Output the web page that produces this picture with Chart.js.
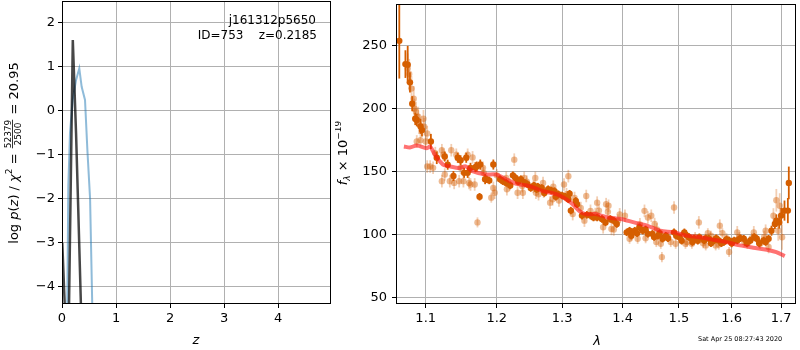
<!DOCTYPE html>
<html>
<head>
<meta charset="utf-8">
<script src="https://cdn.jsdelivr.net/npm/chart.js@4.4.1/dist/chart.umd.min.js"></script>
<style>
  body { margin: 0; background: #fff; }
  #wrap { position: relative; width: 800px; height: 350px; }
  canvas { position: absolute; top: 0; }
  #pz { left: 0; }
  #spec { left: 335px; }
  #stamp { position: absolute; left: 698px; top: 335px; font: 6.5px "DejaVu Sans"; white-space: nowrap; }
</style>
</head>
<body>
<div id="wrap">
  <canvas id="pz" width="335" height="350"></canvas>
  <canvas id="spec" width="465" height="350"></canvas>
  <div id="stamp">Sat Apr 25 08:27:43 2020</div>
</div>
<script>
// p(z) panel
const zTicks = [0, 1, 2, 3, 4];
const pzTicks = [-4, -3, -2, -1, 0, 1, 2];
const zBlack = [0.005, 0.06, 0.10, 0.20, 0.26, 0.30, 0.35, 0.40];
const pzBlack = [-3.0, -4.7, -7.0, 1.61, -0.5, -2.2, -4.4, -7.0];
const zBlue = [0.09, 0.117, 0.148, 0.198, 0.26, 0.32, 0.364, 0.426, 0.47, 0.52, 0.56, 0.59];
const pzBlue = [-5.5, -1.72, -0.5, 0.25, 0.7, 0.97, 0.55, 0.25, -0.89, -2.0, -4.4, -6.5];

// spectrum panel
const lamTicks = [1.1, 1.2, 1.3, 1.4, 1.5, 1.6, 1.7];
const fluxTicks = [50, 100, 150, 200, 250];

const lamDark = [1.065,1.073,1.076,1.079,1.082,1.086,1.088,1.093,1.095,1.107,
  1.115,1.126,1.130,1.138,1.144,1.148,1.153,1.156,1.158,1.162,
  1.169,1.171,1.175,1.176,1.183,1.185,1.189,1.195,1.205,1.209,
  1.214,1.224,1.228,1.236,1.242,1.246,1.251,1.256,1.262,1.268,
  1.278,1.283,1.288,1.294,1.300,1.305,1.312,1.314,1.322,1.324,
  1.332,1.340,1.346,1.351,1.357,1.365,1.371,1.379,1.385,1.390,
  1.407,1.412,1.421,1.429,1.435,1.444,1.452,1.462,1.470,1.476,
  1.491,1.501,1.510,1.519,1.528,1.538,1.547,1.556,1.566,1.575,
  1.585,1.595,1.605,1.611,1.624,1.637,1.650,1.664,1.674,1.680,
  1.687,1.690,1.696,1.700,1.707,1.714,1.716,
  1.220,1.232,1.260,1.272,1.290,1.310,
  1.415,1.425,1.440,1.455,1.465,1.480,1.495,1.505,1.515,1.525,
  1.535,1.550,1.560,1.570,1.580,1.590,1.600,1.617,1.630,1.645,
  1.655,1.668];
const fluxDark = [254,235.5,235,221,204,192,191,186,183,174,
  161,162,155.5,146.5,161,159,149,161,149,153,
  153.5,154,130,155.6,144,144,143,155.6,144,142.4,
  141,147,145,144,141,140,137,139,138,137,
  136,135,134.5,132,131,130,132.4,119,126.7,124,
  115,115.6,115,113.5,113.5,112.3,109.6,112.3,111,108.3,
  101.7,103,103,105.7,103,100.5,100.5,99,96.6,99,
  101.7,97.8,101.7,97.8,96.6,97.8,95.2,96.6,95.2,95.2,
  94,95.2,95.2,95.2,96.6,95.2,96.6,95.2,96.6,103,
  108.3,111,109.6,115,119,119,141,
  139,142,136,133,130,128,
  99,101,104,98,101,97,99,95,99,94,
  95,97,93,97,93,96,93,97,93,98,
  93,94];
const errDark = [30,11,15,8,6,5,5,6,5,6,
  5,4,4,4,4,4,4,4,4,4,
  4,4,3,4,4,3,3,4,3,3,
  3,3,3,3,3,3,3,3,3,3,
  3,3,3,3,3,3,3,3,3,3,
  3,3,3,3,3,3,3,3,3,3,
  3,3,3,3,3,3,3,3,3,3,
  3,3,3,3,3,3,3,3,3,3,
  3,3,3,3,3,3,3,3,3,4,
  4,5,5,6,8,10,13,
  3,3,3,3,3,3,
  3,3,3,3,3,3,3,3,3,3,
  3,3,3,3,3,3,3,3,3,3,
  3,3];

const lamLight = [1.076,1.078,1.081,1.084,1.085,1.087,1.090,1.091,1.097,1.098,
  1.102,1.088,1.093,1.100,1.102,1.106,1.110,1.122,1.126,1.133,
  1.139,1.146,1.148,1.122,1.124,1.113,1.142,1.135,1.152,1.158,
  1.160,1.165,1.162,1.168,1.172,1.180,1.181,1.192,1.195,1.197,
  1.200,1.214,1.215,1.219,1.226,1.231,1.238,1.239,1.241,1.245,
  1.255,1.258,1.259,1.263,1.270,1.271,1.281,1.285,1.286,1.295,
  1.303,1.307,1.310,1.317,1.320,1.330,1.336,1.339,1.346,1.354,
  1.357,1.360,1.367,1.372,1.375,1.376,1.381,1.385,1.392,1.395,
  1.404,1.412,1.415,1.426,1.430,1.438,1.440,1.444,1.450,1.456,
  1.459,1.460,1.467,1.469,1.480,1.485,1.491,1.494,1.505,1.512,
  1.515,1.524,1.530,1.537,1.545,1.550,1.554,1.560,1.569,1.575,
  1.577,1.582,1.590,1.595,1.600,1.611,1.615,1.625,1.631,1.640,
  1.644,1.655,1.657,1.665,1.668,1.674,1.684,1.690,1.694,1.697,
  1.702];
const fluxLight = [232,227.6,216,208,200,197.5,193.6,188,192,185.7,
  180.4,174,175,174,154,154,153,142.4,147.7,142.4,
  141,142.4,153,167,163.4,164.7,163.4,167,142.4,163.4,
  141,161.3,139.8,139.8,109.6,153,149,129.3,137,133.2,
  147,145,136,139.8,159.5,133.2,138.5,133.2,145,142,
  138,145,133.2,132,141,134,125.3,128,138,127,
  139.8,132,146.4,116.2,129,121,111,130.6,118.8,116.2,
  125.3,119,105.7,124.1,118,122.8,104.4,104,111,116,
  114.9,96.6,100,96.6,108,118.8,97,113.5,114.9,108.3,
  94,104,92.6,82,98,94,121.4,92.6,99,92.6,
  94,92.6,98,109.6,93,91.3,101,99,91.3,92,
  107,101,97,86,93,101.7,98,94,92.6,97,
  101.7,93,92.6,98,103,90,114.9,127.2,103,122.8,
  97.8];
const errLight = [12,12,10,10,8,8,8,8,7,7,
  6,5,5,5,5,5,5,5,5,5,
  5,5,5,5,5,5,5,5,5,5,
  5,5,5,5,4,5,5,4,5,5,
  5,5,5,5,5,5,5,5,5,5,
  5,5,5,5,5,5,5,5,5,5,
  5,5,5,5,5,5,5,5,5,5,
  5,5,5,5,5,5,5,5,5,5,
  5,4,5,4,5,5,4,5,5,5,
  4,5,4,4,4,4,5,4,4,4,
  4,4,4,5,4,4,4,4,4,4,
  5,4,4,4,4,5,4,4,4,4,
  5,4,4,5,5,5,6,9,8,10,
  10];

const lamModel = [1.071,1.079,1.088,1.1015,1.106,1.1125,1.1236,1.1327,1.146,1.1553,
  1.1647,1.184,1.1988,1.214,1.229,1.2495,1.270,1.291,1.3065,1.317,
  1.3275,1.338,1.354,1.3755,1.397,1.4195,1.4425,1.466,1.490,1.514,
  1.539,1.5645,1.590,1.616,1.643,1.6705,1.690,1.7075];
const fluxModel = [170,169.2,170.8,168.6,170,163.4,155.6,154.2,152.9,154.2,
  150.3,147.7,147.7,143.8,140.3,138.5,134.5,132,128,124.1,
  118.8,116.2,116.2,113.5,112.3,109.6,107,103,101.7,99.1,
  97.8,95.8,93.9,91.3,89.5,87.9,86,82.8];

const ORANGE = "rgb(213,94,0)";
const GRID = "#b0b0b0";
Chart.defaults.font.family = "'DejaVu Sans'";
Chart.defaults.font.size = 13;
Chart.defaults.color = "#000";

function pts(xs, ys){
    return xs.map((x, i) => ({x: x, y: ys[i]}));
}

function minus(v){
    return v < 0 ? "\u2212" + Math.abs(v) : String(v);
}

function fixTicks(list){
    return function(scale){
        scale.ticks = list.map(v => ({value: v}));
    };
}

// fixed axis size, and no extra room for the end labels
function fixSize(w, h){
    return function(s){
        if(w) s.width = w;
        if(h) s.height = h;
        s.paddingTop = 0; s.paddingBottom = 0;
        s.paddingLeft = 0; s.paddingRight = 0;
    };
}

// black frame round the plot area
const frame = {
    id: "frame",
    afterDatasetsDraw(chart){
        const a = chart.chartArea, ctx = chart.ctx;
        ctx.save();
        ctx.strokeStyle = "#000";
        ctx.lineWidth = 1;
        ctx.strokeRect(Math.round(a.left) + 0.5, Math.round(a.top) + 0.5,
            Math.round(a.right - a.left) - 1, Math.round(a.bottom - a.top) - 1);
        ctx.restore();
    }
};

// vertical error bars, drawn before each dataset's points
const errorBars = {
    id: "errorBars",
    beforeDatasetDraw(chart, args){
        const ds = chart.data.datasets[args.index];
        if(!ds.err) return;
        const xs = chart.scales.x, ys = chart.scales.y, ctx = chart.ctx, a = chart.chartArea;
        ctx.save();
        ctx.beginPath();
        ctx.rect(a.left, a.top, a.right - a.left, a.bottom - a.top);
        ctx.clip();
        ctx.strokeStyle = ds.errColor;
        ctx.lineWidth = 1.8;
        for(let i = 0; i < ds.data.length; i++){
            const p = ds.data[i];
            const x = xs.getPixelForValue(p.x);
            ctx.beginPath();
            ctx.moveTo(x, ys.getPixelForValue(p.y - ds.err[i]));
            ctx.lineTo(x, ys.getPixelForValue(p.y + ds.err[i]));
            ctx.stroke();
        }
        ctx.restore();
    }
};

// draws a run of text pieces along the rotated axis
function drawPieces(ctx, pieces, cx, cy){
    let total = 0;
    for(const p of pieces){
        ctx.font = p.font;
        p.w = p.frac ? Math.max(ctx.measureText(p.frac[0]).width, ctx.measureText(p.frac[1]).width) + 2 : ctx.measureText(p.t).width;
        total += p.w;
    }
    ctx.save();
    ctx.translate(cx, cy);
    ctx.rotate(-Math.PI / 2);
    ctx.fillStyle = "#000";
    ctx.textBaseline = "alphabetic";
    let u = -total / 2;
    for(const p of pieces){
        ctx.font = p.font;
        if(p.frac){
            ctx.textAlign = "center";
            ctx.fillText(p.frac[0], u + p.w / 2, -7);
            ctx.fillText(p.frac[1], u + p.w / 2, 3);
            ctx.fillRect(u + 1, -5.8, p.w - 2, 0.8);
        } else {
            ctx.textAlign = "left";
            ctx.fillText(p.t, u, p.dy || 0);
        }
        u += p.w;
    }
    ctx.restore();
}

const REG = "13px 'DejaVu Sans'", IT = "italic 13px 'DejaVu Sans'", SM = "9px 'DejaVu Sans'";

const pzText = {
    id: "pzText",
    afterDraw(chart){
        const ctx = chart.ctx;
        drawPieces(ctx, [
            {t: "log ", font: REG}, {t: "p", font: IT}, {t: "(", font: REG}, {t: "z", font: IT},
            {t: ") / ", font: REG}, {t: "\u03c7", font: IT}, {t: "2", font: SM, dy: -6},
            {t: " = ", font: REG}, {frac: ["52379", "2500"], font: SM}, {t: " = 20.95", font: REG}
        ], 18, 153);
        ctx.save();
        ctx.font = "12px 'DejaVu Sans'";
        ctx.textAlign = "right";
        ctx.fillStyle = "#000";
        ctx.fillText("j161312p5650", 316, 24);
        ctx.fillText("ID=753    z=0.2185", 317, 39);
        ctx.font = IT;
        ctx.textAlign = "center";
        ctx.fillText("z", 196, 344);
        ctx.restore();
    }
};

const specText = {
    id: "specText",
    afterDraw(chart){
        const ctx = chart.ctx;
        drawPieces(ctx, [
            {t: "f", font: IT}, {t: "\u03bb", font: "italic 9px 'DejaVu Sans'", dy: 3},
            {t: " \u00d7 10", font: REG}, {t: "\u221219", font: SM, dy: -6}
        ], 12, 153);
        ctx.save();
        ctx.font = IT;
        ctx.textAlign = "center";
        ctx.fillStyle = "#000";
        ctx.fillText("\u03bb", 597 - 335, 345);
        ctx.restore();
    }
};

function axis(extra){
    return Object.assign({
        grid: {color: GRID, lineWidth: 1, tickColor: "#000", tickLength: 4},
        border: {display: false},
        ticks: {padding: 3, maxRotation: 0, autoSkip: false}
    }, extra);
}

new Chart(document.querySelector("#pz"), {
    type: "scatter",
    data: {
        datasets: [
            {data: pts(zBlack, pzBlack), showLine: true, borderColor: "rgba(0,0,0,0.72)", borderWidth: 2.5, pointRadius: 0, order: 0},
            {data: pts(zBlue, pzBlue), showLine: true, borderColor: "rgba(31,119,180,0.5)", borderWidth: 2, pointRadius: 0, order: 1}
        ]
    },
    options: {
        responsive: false,
        animation: false,
        layout: {padding: {top: 1, right: 4, left: 0, bottom: 0}},
        plugins: {legend: {display: false}, tooltip: {enabled: false}},
        scales: {
            x: axis({type: "linear", min: 0, max: 4.98, afterBuildTicks: fixTicks(zTicks),
                afterFit: fixSize(0, 46),
                ticks: {padding: 3, maxRotation: 0, autoSkip: false, callback: v => minus(v)}}),
            y: axis({type: "linear", min: -4.39, max: 2.5, afterBuildTicks: fixTicks(pzTicks),
                afterFit: fixSize(62, 0),
                ticks: {padding: 3, autoSkip: false, callback: v => minus(v)}})
        }
    },
    plugins: [frame, pzText]
});

new Chart(document.querySelector("#spec"), {
    type: "scatter",
    data: {
        datasets: [
            {data: pts(lamModel, fluxModel), showLine: true, borderColor: "rgba(255,20,20,0.6)", borderWidth: 4, pointRadius: 0, tension: 0.3, order: 0},
            {data: pts(lamDark, fluxDark), err: errDark, errColor: ORANGE, pointRadius: 3.2, backgroundColor: ORANGE, borderWidth: 0, order: 1},
            {data: pts(lamLight, fluxLight), err: errLight, errColor: "rgba(213,94,0,0.3)", pointRadius: 3.2, backgroundColor: "rgba(213,94,0,0.42)", borderWidth: 0, order: 2}
        ]
    },
    options: {
        responsive: false,
        animation: false,
        layout: {padding: {top: 1, right: 1, left: 0, bottom: 0}},
        plugins: {legend: {display: false}, tooltip: {enabled: false}},
        scales: {
            x: axis({type: "logarithmic", min: 1.0607, max: 1.7312, afterBuildTicks: fixTicks(lamTicks),
                afterFit: fixSize(0, 46),
                ticks: {padding: 3, maxRotation: 0, autoSkip: false, callback: v => Number(v).toFixed(1)}}),
            y: axis({type: "linear", min: 44.7, max: 283.3, afterBuildTicks: fixTicks(fluxTicks),
                afterFit: fixSize(61, 0),
                ticks: {padding: 5, autoSkip: false, callback: v => String(v)}})
        }
    },
    plugins: [frame, errorBars, specText]
});
</script>
</body>
</html>
